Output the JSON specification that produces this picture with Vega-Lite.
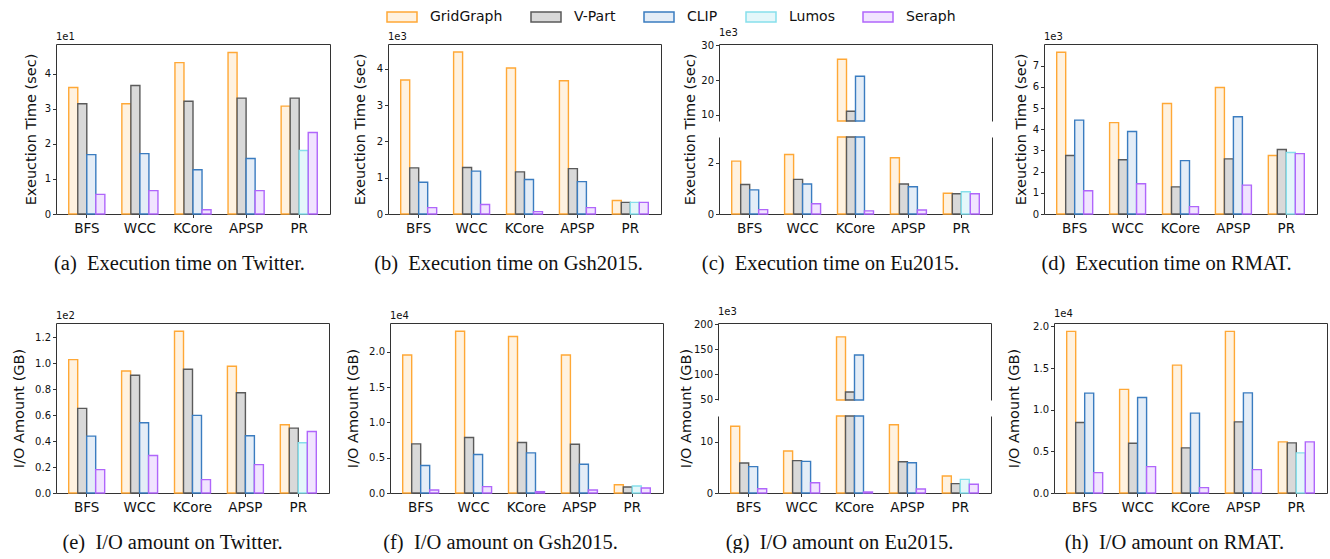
{
 "$schema": "https://vega.github.io/schema/vega-lite/v6.json",
 "background": "white",
 "padding": {"left": 10, "right": 0, "top": 6, "bottom": 0},
 "config": {
  "font": "DejaVu Sans",
  "view": {"stroke": "#333333", "strokeWidth": 1},
  "axis": {"grid": false, "domain": false, "domainColor": "#333333", "domainWidth": 1, "tickColor": "#333333", "tickSize": 3.5, "labelColor": "#111111", "labelFont": "DejaVu Sans", "titleFont": "DejaVu Sans", "titleFontWeight": "normal", "titleColor": "#111111"},
  "axisX": {"labelFontSize": 13.5, "labelAngle": 0, "labelPadding": 4, "titleFont": "Liberation Serif", "titleFontSize": 20.5, "titlePadding": 18},
  "axisY": {"labelFontSize": 10, "labelPadding": 2, "titleFontSize": 14.5, "titlePadding": 4},
  "title": {"fontSize": 10, "fontWeight": "normal", "font": "DejaVu Sans", "anchor": "start", "offset": 2, "color": "#111111", "frame": "group"},
  "legend": {"orient": "none", "legendX": 335, "legendY": -38, "direction": "horizontal", "gridAlign": "none", "symbolType": "M-1.5,-0.5H1.5V0.5H-1.5Z", "symbolSize": 400, "symbolStrokeWidth": 1.5, "labelFontSize": 14, "labelFont": "DejaVu Sans", "labelOffset": 17, "columnPadding": 25, "labelColor": "#111111"}
 },
 "datasets": {
  "bars": [
   {"panel": "a", "task": "BFS", "system": "GridGraph", "value": 3.60},
   {"panel": "a", "task": "BFS", "system": "V-Part", "value": 3.14},
   {"panel": "a", "task": "BFS", "system": "CLIP", "value": 1.69},
   {"panel": "a", "task": "BFS", "system": "Seraph", "value": 0.56},
   {"panel": "a", "task": "WCC", "system": "GridGraph", "value": 3.14},
   {"panel": "a", "task": "WCC", "system": "V-Part", "value": 3.66},
   {"panel": "a", "task": "WCC", "system": "CLIP", "value": 1.72},
   {"panel": "a", "task": "WCC", "system": "Seraph", "value": 0.665},
   {"panel": "a", "task": "KCore", "system": "GridGraph", "value": 4.31},
   {"panel": "a", "task": "KCore", "system": "V-Part", "value": 3.21},
   {"panel": "a", "task": "KCore", "system": "CLIP", "value": 1.26},
   {"panel": "a", "task": "KCore", "system": "Seraph", "value": 0.12},
   {"panel": "a", "task": "APSP", "system": "GridGraph", "value": 4.60},
   {"panel": "a", "task": "APSP", "system": "V-Part", "value": 3.30},
   {"panel": "a", "task": "APSP", "system": "CLIP", "value": 1.58},
   {"panel": "a", "task": "APSP", "system": "Seraph", "value": 0.665},
   {"panel": "a", "task": "PR", "system": "GridGraph", "value": 3.07},
   {"panel": "a", "task": "PR", "system": "V-Part", "value": 3.30},
   {"panel": "a", "task": "PR", "system": "Lumos", "value": 1.81},
   {"panel": "a", "task": "PR", "system": "Seraph", "value": 2.32},

   {"panel": "b", "task": "BFS", "system": "GridGraph", "value": 3.69},
   {"panel": "b", "task": "BFS", "system": "V-Part", "value": 1.27},
   {"panel": "b", "task": "BFS", "system": "CLIP", "value": 0.876},
   {"panel": "b", "task": "BFS", "system": "Seraph", "value": 0.175},
   {"panel": "b", "task": "WCC", "system": "GridGraph", "value": 4.46},
   {"panel": "b", "task": "WCC", "system": "V-Part", "value": 1.28},
   {"panel": "b", "task": "WCC", "system": "CLIP", "value": 1.18},
   {"panel": "b", "task": "WCC", "system": "Seraph", "value": 0.26},
   {"panel": "b", "task": "KCore", "system": "GridGraph", "value": 4.02},
   {"panel": "b", "task": "KCore", "system": "V-Part", "value": 1.16},
   {"panel": "b", "task": "KCore", "system": "CLIP", "value": 0.95},
   {"panel": "b", "task": "KCore", "system": "Seraph", "value": 0.065},
   {"panel": "b", "task": "APSP", "system": "GridGraph", "value": 3.67},
   {"panel": "b", "task": "APSP", "system": "V-Part", "value": 1.25},
   {"panel": "b", "task": "APSP", "system": "CLIP", "value": 0.89},
   {"panel": "b", "task": "APSP", "system": "Seraph", "value": 0.175},
   {"panel": "b", "task": "PR", "system": "GridGraph", "value": 0.37},
   {"panel": "b", "task": "PR", "system": "V-Part", "value": 0.32},
   {"panel": "b", "task": "PR", "system": "Lumos", "value": 0.32},
   {"panel": "b", "task": "PR", "system": "Seraph", "value": 0.32},

   {"panel": "c", "task": "BFS", "system": "GridGraph", "value": 2.06},
   {"panel": "c", "task": "BFS", "system": "V-Part", "value": 1.15},
   {"panel": "c", "task": "BFS", "system": "CLIP", "value": 0.94},
   {"panel": "c", "task": "BFS", "system": "Seraph", "value": 0.17},
   {"panel": "c", "task": "WCC", "system": "GridGraph", "value": 2.32},
   {"panel": "c", "task": "WCC", "system": "V-Part", "value": 1.35},
   {"panel": "c", "task": "WCC", "system": "CLIP", "value": 1.17},
   {"panel": "c", "task": "WCC", "system": "Seraph", "value": 0.40},
   {"panel": "c", "task": "KCore", "system": "GridGraph", "value": 26.0},
   {"panel": "c", "task": "KCore", "system": "V-Part", "value": 11.0},
   {"panel": "c", "task": "KCore", "system": "CLIP", "value": 21.1},
   {"panel": "c", "task": "KCore", "system": "Seraph", "value": 0.12},
   {"panel": "c", "task": "APSP", "system": "GridGraph", "value": 2.19},
   {"panel": "c", "task": "APSP", "system": "V-Part", "value": 1.17},
   {"panel": "c", "task": "APSP", "system": "CLIP", "value": 1.06},
   {"panel": "c", "task": "APSP", "system": "Seraph", "value": 0.155},
   {"panel": "c", "task": "PR", "system": "GridGraph", "value": 0.81},
   {"panel": "c", "task": "PR", "system": "V-Part", "value": 0.79},
   {"panel": "c", "task": "PR", "system": "Lumos", "value": 0.865},
   {"panel": "c", "task": "PR", "system": "Seraph", "value": 0.79},

   {"panel": "d", "task": "BFS", "system": "GridGraph", "value": 7.63},
   {"panel": "d", "task": "BFS", "system": "V-Part", "value": 2.76},
   {"panel": "d", "task": "BFS", "system": "CLIP", "value": 4.43},
   {"panel": "d", "task": "BFS", "system": "Seraph", "value": 1.10},
   {"panel": "d", "task": "WCC", "system": "GridGraph", "value": 4.31},
   {"panel": "d", "task": "WCC", "system": "V-Part", "value": 2.56},
   {"panel": "d", "task": "WCC", "system": "CLIP", "value": 3.89},
   {"panel": "d", "task": "WCC", "system": "Seraph", "value": 1.43},
   {"panel": "d", "task": "KCore", "system": "GridGraph", "value": 5.21},
   {"panel": "d", "task": "KCore", "system": "V-Part", "value": 1.28},
   {"panel": "d", "task": "KCore", "system": "CLIP", "value": 2.52},
   {"panel": "d", "task": "KCore", "system": "Seraph", "value": 0.35},
   {"panel": "d", "task": "APSP", "system": "GridGraph", "value": 5.97},
   {"panel": "d", "task": "APSP", "system": "V-Part", "value": 2.60},
   {"panel": "d", "task": "APSP", "system": "CLIP", "value": 4.59},
   {"panel": "d", "task": "APSP", "system": "Seraph", "value": 1.36},
   {"panel": "d", "task": "PR", "system": "GridGraph", "value": 2.76},
   {"panel": "d", "task": "PR", "system": "V-Part", "value": 3.04},
   {"panel": "d", "task": "PR", "system": "Lumos", "value": 2.90},
   {"panel": "d", "task": "PR", "system": "Seraph", "value": 2.85},

   {"panel": "e", "task": "BFS", "system": "GridGraph", "value": 1.028},
   {"panel": "e", "task": "BFS", "system": "V-Part", "value": 0.652},
   {"panel": "e", "task": "BFS", "system": "CLIP", "value": 0.438},
   {"panel": "e", "task": "BFS", "system": "Seraph", "value": 0.18},
   {"panel": "e", "task": "WCC", "system": "GridGraph", "value": 0.94},
   {"panel": "e", "task": "WCC", "system": "V-Part", "value": 0.907},
   {"panel": "e", "task": "WCC", "system": "CLIP", "value": 0.541},
   {"panel": "e", "task": "WCC", "system": "Seraph", "value": 0.289},
   {"panel": "e", "task": "KCore", "system": "GridGraph", "value": 1.247},
   {"panel": "e", "task": "KCore", "system": "V-Part", "value": 0.954},
   {"panel": "e", "task": "KCore", "system": "CLIP", "value": 0.598},
   {"panel": "e", "task": "KCore", "system": "Seraph", "value": 0.103},
   {"panel": "e", "task": "APSP", "system": "GridGraph", "value": 0.977},
   {"panel": "e", "task": "APSP", "system": "V-Part", "value": 0.773},
   {"panel": "e", "task": "APSP", "system": "CLIP", "value": 0.441},
   {"panel": "e", "task": "APSP", "system": "Seraph", "value": 0.219},
   {"panel": "e", "task": "PR", "system": "GridGraph", "value": 0.526},
   {"panel": "e", "task": "PR", "system": "V-Part", "value": 0.50},
   {"panel": "e", "task": "PR", "system": "Lumos", "value": 0.387},
   {"panel": "e", "task": "PR", "system": "Seraph", "value": 0.474},

   {"panel": "f", "task": "BFS", "system": "GridGraph", "value": 1.957},
   {"panel": "f", "task": "BFS", "system": "V-Part", "value": 0.697},
   {"panel": "f", "task": "BFS", "system": "CLIP", "value": 0.389},
   {"panel": "f", "task": "BFS", "system": "Seraph", "value": 0.043},
   {"panel": "f", "task": "WCC", "system": "GridGraph", "value": 2.294},
   {"panel": "f", "task": "WCC", "system": "V-Part", "value": 0.787},
   {"panel": "f", "task": "WCC", "system": "CLIP", "value": 0.545},
   {"panel": "f", "task": "WCC", "system": "Seraph", "value": 0.09},
   {"panel": "f", "task": "KCore", "system": "GridGraph", "value": 2.218},
   {"panel": "f", "task": "KCore", "system": "V-Part", "value": 0.716},
   {"panel": "f", "task": "KCore", "system": "CLIP", "value": 0.569},
   {"panel": "f", "task": "KCore", "system": "Seraph", "value": 0.019},
   {"panel": "f", "task": "APSP", "system": "GridGraph", "value": 1.957},
   {"panel": "f", "task": "APSP", "system": "V-Part", "value": 0.692},
   {"panel": "f", "task": "APSP", "system": "CLIP", "value": 0.408},
   {"panel": "f", "task": "APSP", "system": "Seraph", "value": 0.043},
   {"panel": "f", "task": "PR", "system": "GridGraph", "value": 0.118},
   {"panel": "f", "task": "PR", "system": "V-Part", "value": 0.085},
   {"panel": "f", "task": "PR", "system": "Lumos", "value": 0.10},
   {"panel": "f", "task": "PR", "system": "Seraph", "value": 0.071},

   {"panel": "g", "task": "BFS", "system": "GridGraph", "value": 13.0},
   {"panel": "g", "task": "BFS", "system": "V-Part", "value": 5.84},
   {"panel": "g", "task": "BFS", "system": "CLIP", "value": 5.13},
   {"panel": "g", "task": "BFS", "system": "Seraph", "value": 0.84},
   {"panel": "g", "task": "WCC", "system": "GridGraph", "value": 8.18},
   {"panel": "g", "task": "WCC", "system": "V-Part", "value": 6.3},
   {"panel": "g", "task": "WCC", "system": "CLIP", "value": 6.17},
   {"panel": "g", "task": "WCC", "system": "Seraph", "value": 2.01},
   {"panel": "g", "task": "KCore", "system": "GridGraph", "value": 174.5},
   {"panel": "g", "task": "KCore", "system": "V-Part", "value": 65},
   {"panel": "g", "task": "KCore", "system": "CLIP", "value": 138.5},
   {"panel": "g", "task": "KCore", "system": "Seraph", "value": 0.2},
   {"panel": "g", "task": "APSP", "system": "GridGraph", "value": 13.3},
   {"panel": "g", "task": "APSP", "system": "V-Part", "value": 6.1},
   {"panel": "g", "task": "APSP", "system": "CLIP", "value": 5.9},
   {"panel": "g", "task": "APSP", "system": "Seraph", "value": 0.78},
   {"panel": "g", "task": "PR", "system": "GridGraph", "value": 3.31},
   {"panel": "g", "task": "PR", "system": "V-Part", "value": 1.82},
   {"panel": "g", "task": "PR", "system": "Lumos", "value": 2.66},
   {"panel": "g", "task": "PR", "system": "Seraph", "value": 1.69},

   {"panel": "h", "task": "BFS", "system": "GridGraph", "value": 1.94},
   {"panel": "h", "task": "BFS", "system": "V-Part", "value": 0.846},
   {"panel": "h", "task": "BFS", "system": "CLIP", "value": 1.198},
   {"panel": "h", "task": "BFS", "system": "Seraph", "value": 0.245},
   {"panel": "h", "task": "WCC", "system": "GridGraph", "value": 1.243},
   {"panel": "h", "task": "WCC", "system": "V-Part", "value": 0.597},
   {"panel": "h", "task": "WCC", "system": "CLIP", "value": 1.146},
   {"panel": "h", "task": "WCC", "system": "Seraph", "value": 0.317},
   {"panel": "h", "task": "KCore", "system": "GridGraph", "value": 1.535},
   {"panel": "h", "task": "KCore", "system": "V-Part", "value": 0.541},
   {"panel": "h", "task": "KCore", "system": "CLIP", "value": 0.958},
   {"panel": "h", "task": "KCore", "system": "Seraph", "value": 0.064},
   {"panel": "h", "task": "APSP", "system": "GridGraph", "value": 1.94},
   {"panel": "h", "task": "APSP", "system": "V-Part", "value": 0.854},
   {"panel": "h", "task": "APSP", "system": "CLIP", "value": 1.202},
   {"panel": "h", "task": "APSP", "system": "Seraph", "value": 0.281},
   {"panel": "h", "task": "PR", "system": "GridGraph", "value": 0.613},
   {"panel": "h", "task": "PR", "system": "V-Part", "value": 0.601},
   {"panel": "h", "task": "PR", "system": "Lumos", "value": 0.481},
   {"panel": "h", "task": "PR", "system": "Seraph", "value": 0.613}
  ]
 },
 "spacing": 33,
 "resolve": {"scale": {"xOffset": "independent"}},
 "vconcat": [
  {
   "spacing": 20,
   "resolve": {"scale": {"xOffset": "independent"}},
   "hconcat": [
    {
     "width": 274, "height": 170,
     "title": {"text": "1e1"},
     "data": {"name": "bars"},
     "transform": [{"filter": "datum.panel === 'a'"}, {"calculate": "datum.system === 'Lumos' ? 'CLIP' : datum.system", "as": "slot"}],
     "mark": {"type": "bar", "strokeWidth": 1.4},
     "encoding": {
      "x": {"field": "task", "type": "nominal", "sort": ["BFS", "WCC", "KCore", "APSP", "PR"], "scale": {"paddingInner": 0.32, "paddingOuter": 0.24}, "axis": {"title": "(a)\u2002Execution time on Twitter.", "titleX": 123}},
      "xOffset": {"field": "slot", "type": "nominal", "sort": ["GridGraph", "V-Part", "CLIP", "Seraph"], "scale": {"paddingInner": 0, "paddingOuter": 0}},
      "y": {"field": "value", "type": "quantitative", "scale": {"domain": [0, 4.84], "nice": false}, "axis": {"title": "Exeuction Time (sec)", "values": [0, 1, 2, 3, 4], "format": "d", "minExtent": 14, "maxExtent": 14}},
      "fill": {"field": "system", "type": "nominal", "title": null, "scale": {"domain": ["GridGraph", "V-Part", "CLIP", "Lumos", "Seraph"], "range": ["#fff2e0", "#d9d9d9", "#e4edf7", "#e4f7fa", "#f1e4ff"]}},
      "stroke": {"field": "system", "type": "nominal", "title": null, "scale": {"domain": ["GridGraph", "V-Part", "CLIP", "Lumos", "Seraph"], "range": ["#ffa836", "#5a5a5a", "#3a7cc0", "#86dfeb", "#b066fb"]}}
     }
    },
    {
     "width": 273, "height": 170,
     "title": {"text": "1e3"},
     "data": {"name": "bars"},
     "transform": [{"filter": "datum.panel === 'b'"}, {"calculate": "datum.system === 'Lumos' ? 'CLIP' : datum.system", "as": "slot"}],
     "mark": {"type": "bar", "strokeWidth": 1.4},
     "encoding": {
      "x": {"field": "task", "type": "nominal", "sort": ["BFS", "WCC", "KCore", "APSP", "PR"], "scale": {"paddingInner": 0.32, "paddingOuter": 0.24}, "axis": {"title": "(b)\u2002Execution time on Gsh2015.", "titleX": 120}},
      "xOffset": {"field": "slot", "type": "nominal", "sort": ["GridGraph", "V-Part", "CLIP", "Seraph"], "scale": {"paddingInner": 0, "paddingOuter": 0}},
      "y": {"field": "value", "type": "quantitative", "scale": {"domain": [0, 4.68], "nice": false}, "axis": {"title": "Exeuction Time (sec)", "values": [0, 1, 2, 3, 4], "format": "d", "minExtent": 17, "maxExtent": 17}},
      "fill": {"field": "system", "type": "nominal", "title": null, "scale": {"domain": ["GridGraph", "V-Part", "CLIP", "Lumos", "Seraph"], "range": ["#fff2e0", "#d9d9d9", "#e4edf7", "#e4f7fa", "#f1e4ff"]}},
      "stroke": {"field": "system", "type": "nominal", "title": null, "scale": {"domain": ["GridGraph", "V-Part", "CLIP", "Lumos", "Seraph"], "range": ["#ffa836", "#5a5a5a", "#3a7cc0", "#86dfeb", "#b066fb"]}}
     }
    },
    {
     "width": 273, "height": 170,
     "title": {"text": "1e3"},
     "view": {"stroke": null},
     "data": {"name": "bars"},
     "transform": [{"filter": "datum.panel === 'c'"}, {"calculate": "datum.system === 'Lumos' ? 'CLIP' : datum.system", "as": "slot"}],
     "encoding": {
      "xOffset": {"field": "slot", "type": "nominal", "sort": ["GridGraph", "V-Part", "CLIP", "Seraph"], "scale": {"paddingInner": 0, "paddingOuter": 0}},
      "fill": {"field": "system", "type": "nominal", "title": null, "scale": {"domain": ["GridGraph", "V-Part", "CLIP", "Lumos", "Seraph"], "range": ["#fff2e0", "#d9d9d9", "#e4edf7", "#e4f7fa", "#f1e4ff"]}},
      "stroke": {"field": "system", "type": "nominal", "title": null, "scale": {"domain": ["GridGraph", "V-Part", "CLIP", "Lumos", "Seraph"], "range": ["#ffa836", "#5a5a5a", "#3a7cc0", "#86dfeb", "#b066fb"]}}
     },
     "layer": [
      {
       "transform": [{"filter": "datum.value > 8.2"}],
       "mark": {"type": "bar", "strokeWidth": 1.4},
       "encoding": {
        "x": {"field": "task", "type": "nominal", "sort": ["BFS", "WCC", "KCore", "APSP", "PR"], "scale": {"paddingInner": 0.32, "paddingOuter": 0.24}, "axis": {"orient": "top", "labels": false, "ticks": false, "domain": true, "title": null}},
        "y": {"field": "value", "type": "quantitative", "scale": {"domain": [8.2, 30.4], "range": [77, 0], "nice": false, "zero": false, "clamp": true}, "axis": {"orient": "left", "values": [10, 20, 30], "format": "d", "title": null, "domain": true}},
        "y2": {"datum": 8.2}
       }
      },
      {
       "mark": {"type": "bar", "strokeWidth": 1.4},
       "encoding": {
        "x": {"field": "task", "type": "nominal", "sort": ["BFS", "WCC", "KCore", "APSP", "PR"], "scale": {"paddingInner": 0.32, "paddingOuter": 0.24}, "axis": {"orient": "bottom", "domain": true, "title": "(c)\u2002Execution time on Eu2015.", "titleX": 111}},
        "y": {"field": "value", "type": "quantitative", "scale": {"domain": [0, 3], "range": [170, 93], "nice": false, "clamp": true}, "axis": {"orient": "left", "values": [0, 2], "format": "d", "domain": true, "title": "Exeuction Time (sec)", "titleX": -22, "titleY": 85}}
       }
      },
      {
       "transform": [{"filter": "datum.value > 8.2"}],
       "mark": {"type": "bar", "opacity": 0},
       "encoding": {
        "x": {"field": "task", "type": "nominal", "sort": ["BFS", "WCC", "KCore", "APSP", "PR"], "axis": null},
        "y": {"field": "value", "type": "quantitative", "scale": {"domain": [8.2, 30.4], "range": [77, 0], "nice": false, "zero": false, "clamp": true}, "axis": {"orient": "right", "labels": false, "ticks": false, "domain": true, "title": null}},
        "y2": {"datum": 8.2}
       }
      },
      {
       "mark": {"type": "bar", "opacity": 0},
       "encoding": {
        "x": {"field": "task", "type": "nominal", "sort": ["BFS", "WCC", "KCore", "APSP", "PR"], "axis": null},
        "y": {"field": "value", "type": "quantitative", "scale": {"domain": [0, 3], "range": [170, 93], "nice": false, "clamp": true}, "axis": {"orient": "right", "labels": false, "ticks": false, "domain": true, "title": null}}
       }
      }
     ],
     "resolve": {"scale": {"y": "independent"}, "axis": {"x": "independent", "y": "independent"}}
    },
    {
     "width": 273, "height": 170,
     "title": {"text": "1e3"},
     "data": {"name": "bars"},
     "transform": [{"filter": "datum.panel === 'd'"}, {"calculate": "datum.system === 'Lumos' ? 'CLIP' : datum.system", "as": "slot"}],
     "mark": {"type": "bar", "strokeWidth": 1.4},
     "encoding": {
      "x": {"field": "task", "type": "nominal", "sort": ["BFS", "WCC", "KCore", "APSP", "PR"], "scale": {"paddingInner": 0.32, "paddingOuter": 0.24}, "axis": {"title": "(d)\u2002Execution time on RMAT.", "titleX": 122}},
      "xOffset": {"field": "slot", "type": "nominal", "sort": ["GridGraph", "V-Part", "CLIP", "Seraph"], "scale": {"paddingInner": 0, "paddingOuter": 0}},
      "y": {"field": "value", "type": "quantitative", "scale": {"domain": [0, 8.02], "nice": false}, "axis": {"title": "Exeuction Time (sec)", "values": [0, 1, 2, 3, 4, 5, 6, 7], "format": "d", "minExtent": 12, "maxExtent": 12}},
      "fill": {"field": "system", "type": "nominal", "title": null, "scale": {"domain": ["GridGraph", "V-Part", "CLIP", "Lumos", "Seraph"], "range": ["#fff2e0", "#d9d9d9", "#e4edf7", "#e4f7fa", "#f1e4ff"]}},
      "stroke": {"field": "system", "type": "nominal", "title": null, "scale": {"domain": ["GridGraph", "V-Part", "CLIP", "Lumos", "Seraph"], "range": ["#ffa836", "#5a5a5a", "#3a7cc0", "#86dfeb", "#b066fb"]}}
     }
    }
   ]
  },
  {
   "spacing": 14,
   "resolve": {"scale": {"xOffset": "independent"}},
   "hconcat": [
    {
     "width": 273, "height": 170,
     "title": {"text": "1e2"},
     "data": {"name": "bars"},
     "transform": [{"filter": "datum.panel === 'e'"}, {"calculate": "datum.system === 'Lumos' ? 'CLIP' : datum.system", "as": "slot"}],
     "mark": {"type": "bar", "strokeWidth": 1.4},
     "encoding": {
      "x": {"field": "task", "type": "nominal", "sort": ["BFS", "WCC", "KCore", "APSP", "PR"], "scale": {"paddingInner": 0.32, "paddingOuter": 0.24}, "axis": {"title": "(e)\u2002I/O amount on Twitter.", "titleX": 116}},
      "xOffset": {"field": "slot", "type": "nominal", "sort": ["GridGraph", "V-Part", "CLIP", "Seraph"], "scale": {"paddingInner": 0, "paddingOuter": 0}},
      "y": {"field": "value", "type": "quantitative", "scale": {"domain": [0, 1.31], "nice": false}, "axis": {"title": "I/O Amount (GB)", "values": [0, 0.2, 0.4, 0.6, 0.8, 1.0, 1.2], "format": ".1f", "minExtent": 26, "maxExtent": 26}},
      "fill": {"field": "system", "type": "nominal", "title": null, "scale": {"domain": ["GridGraph", "V-Part", "CLIP", "Lumos", "Seraph"], "range": ["#fff2e0", "#d9d9d9", "#e4edf7", "#e4f7fa", "#f1e4ff"]}},
      "stroke": {"field": "system", "type": "nominal", "title": null, "scale": {"domain": ["GridGraph", "V-Part", "CLIP", "Lumos", "Seraph"], "range": ["#ffa836", "#5a5a5a", "#3a7cc0", "#86dfeb", "#b066fb"]}}
     }
    },
    {
     "width": 273, "height": 170,
     "title": {"text": "1e4"},
     "data": {"name": "bars"},
     "transform": [{"filter": "datum.panel === 'f'"}, {"calculate": "datum.system === 'Lumos' ? 'CLIP' : datum.system", "as": "slot"}],
     "mark": {"type": "bar", "strokeWidth": 1.4},
     "encoding": {
      "x": {"field": "task", "type": "nominal", "sort": ["BFS", "WCC", "KCore", "APSP", "PR"], "scale": {"paddingInner": 0.32, "paddingOuter": 0.24}, "axis": {"title": "(f)\u2002I/O amount on Gsh2015.", "titleX": 110}},
      "xOffset": {"field": "slot", "type": "nominal", "sort": ["GridGraph", "V-Part", "CLIP", "Seraph"], "scale": {"paddingInner": 0, "paddingOuter": 0}},
      "y": {"field": "value", "type": "quantitative", "scale": {"domain": [0, 2.41], "nice": false}, "axis": {"title": "I/O Amount (GB)", "values": [0, 0.5, 1.0, 1.5, 2.0], "format": ".1f", "minExtent": 26, "maxExtent": 26}},
      "fill": {"field": "system", "type": "nominal", "title": null, "scale": {"domain": ["GridGraph", "V-Part", "CLIP", "Lumos", "Seraph"], "range": ["#fff2e0", "#d9d9d9", "#e4edf7", "#e4f7fa", "#f1e4ff"]}},
      "stroke": {"field": "system", "type": "nominal", "title": null, "scale": {"domain": ["GridGraph", "V-Part", "CLIP", "Lumos", "Seraph"], "range": ["#ffa836", "#5a5a5a", "#3a7cc0", "#86dfeb", "#b066fb"]}}
     }
    },
    {
     "width": 273, "height": 170,
     "title": {"text": "1e3"},
     "view": {"stroke": null},
     "data": {"name": "bars"},
     "transform": [{"filter": "datum.panel === 'g'"}, {"calculate": "datum.system === 'Lumos' ? 'CLIP' : datum.system", "as": "slot"}],
     "encoding": {
      "xOffset": {"field": "slot", "type": "nominal", "sort": ["GridGraph", "V-Part", "CLIP", "Seraph"], "scale": {"paddingInner": 0, "paddingOuter": 0}},
      "fill": {"field": "system", "type": "nominal", "title": null, "scale": {"domain": ["GridGraph", "V-Part", "CLIP", "Lumos", "Seraph"], "range": ["#fff2e0", "#d9d9d9", "#e4edf7", "#e4f7fa", "#f1e4ff"]}},
      "stroke": {"field": "system", "type": "nominal", "title": null, "scale": {"domain": ["GridGraph", "V-Part", "CLIP", "Lumos", "Seraph"], "range": ["#ffa836", "#5a5a5a", "#3a7cc0", "#86dfeb", "#b066fb"]}}
     },
     "layer": [
      {
       "transform": [{"filter": "datum.value > 49"}],
       "mark": {"type": "bar", "strokeWidth": 1.4},
       "encoding": {
        "x": {"field": "task", "type": "nominal", "sort": ["BFS", "WCC", "KCore", "APSP", "PR"], "scale": {"paddingInner": 0.32, "paddingOuter": 0.24}, "axis": {"orient": "top", "labels": false, "ticks": false, "domain": true, "title": null}},
        "y": {"field": "value", "type": "quantitative", "scale": {"domain": [49, 202], "range": [77, 0], "nice": false, "zero": false, "clamp": true}, "axis": {"orient": "left", "values": [50, 100, 150, 200], "format": "d", "title": null, "domain": true}},
        "y2": {"datum": 49}
       }
      },
      {
       "mark": {"type": "bar", "strokeWidth": 1.4},
       "encoding": {
        "x": {"field": "task", "type": "nominal", "sort": ["BFS", "WCC", "KCore", "APSP", "PR"], "scale": {"paddingInner": 0.32, "paddingOuter": 0.24}, "axis": {"orient": "bottom", "domain": true, "title": "(g)\u2002I/O amount on Eu2015.", "titleX": 121}},
        "y": {"field": "value", "type": "quantitative", "scale": {"domain": [0, 15], "range": [170, 93], "nice": false, "clamp": true}, "axis": {"orient": "left", "values": [0, 10], "format": "d", "domain": true, "title": "I/O Amount (GB)", "titleX": -25, "titleY": 85}}
       }
      },
      {
       "transform": [{"filter": "datum.value > 49"}],
       "mark": {"type": "bar", "opacity": 0},
       "encoding": {
        "x": {"field": "task", "type": "nominal", "sort": ["BFS", "WCC", "KCore", "APSP", "PR"], "axis": null},
        "y": {"field": "value", "type": "quantitative", "scale": {"domain": [49, 202], "range": [77, 0], "nice": false, "zero": false, "clamp": true}, "axis": {"orient": "right", "labels": false, "ticks": false, "domain": true, "title": null}},
        "y2": {"datum": 49}
       }
      },
      {
       "mark": {"type": "bar", "opacity": 0},
       "encoding": {
        "x": {"field": "task", "type": "nominal", "sort": ["BFS", "WCC", "KCore", "APSP", "PR"], "axis": null},
        "y": {"field": "value", "type": "quantitative", "scale": {"domain": [0, 15], "range": [170, 93], "nice": false, "clamp": true}, "axis": {"orient": "right", "labels": false, "ticks": false, "domain": true, "title": null}}
       }
      }
     ],
     "resolve": {"scale": {"y": "independent"}, "axis": {"x": "independent", "y": "independent"}}
    },
    {
     "width": 273, "height": 170,
     "title": {"text": "1e4"},
     "data": {"name": "bars"},
     "transform": [{"filter": "datum.panel === 'h'"}, {"calculate": "datum.system === 'Lumos' ? 'CLIP' : datum.system", "as": "slot"}],
     "mark": {"type": "bar", "strokeWidth": 1.4},
     "encoding": {
      "x": {"field": "task", "type": "nominal", "sort": ["BFS", "WCC", "KCore", "APSP", "PR"], "scale": {"paddingInner": 0.32, "paddingOuter": 0.24}, "axis": {"title": "(h)\u2002I/O amount on RMAT.", "titleX": 120}},
      "xOffset": {"field": "slot", "type": "nominal", "sort": ["GridGraph", "V-Part", "CLIP", "Seraph"], "scale": {"paddingInner": 0, "paddingOuter": 0}},
      "y": {"field": "value", "type": "quantitative", "scale": {"domain": [0, 2.04], "nice": false}, "axis": {"title": "I/O Amount (GB)", "values": [0, 0.5, 1.0, 1.5, 2.0], "format": ".1f", "minExtent": 29, "maxExtent": 29}},
      "fill": {"field": "system", "type": "nominal", "title": null, "scale": {"domain": ["GridGraph", "V-Part", "CLIP", "Lumos", "Seraph"], "range": ["#fff2e0", "#d9d9d9", "#e4edf7", "#e4f7fa", "#f1e4ff"]}},
      "stroke": {"field": "system", "type": "nominal", "title": null, "scale": {"domain": ["GridGraph", "V-Part", "CLIP", "Lumos", "Seraph"], "range": ["#ffa836", "#5a5a5a", "#3a7cc0", "#86dfeb", "#b066fb"]}}
     }
    }
   ]
  }
 ]
}
